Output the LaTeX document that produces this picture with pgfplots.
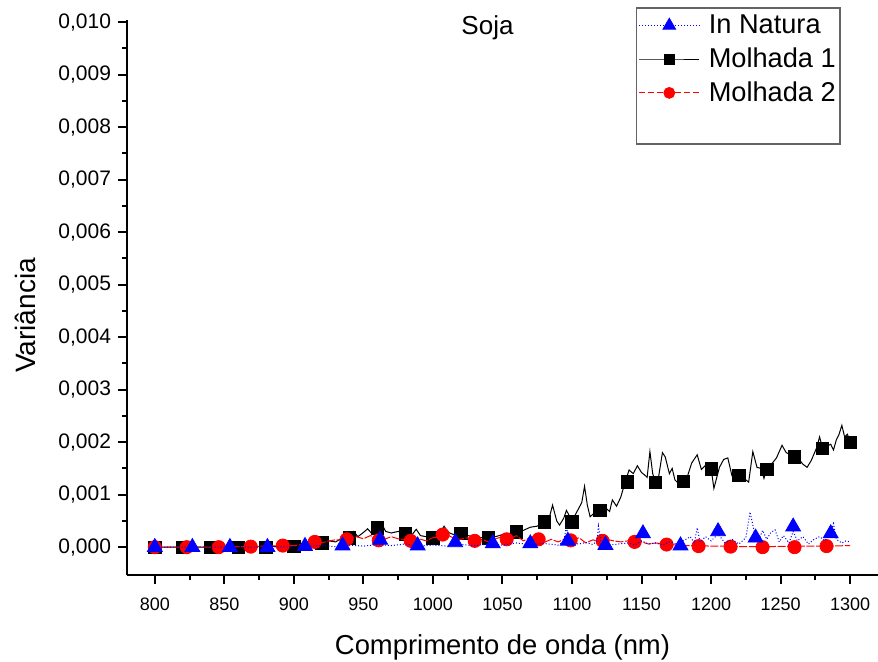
\documentclass[border=0pt]{standalone}
\usepackage{fontspec}
\setmainfont{Liberation Sans}
\usepackage{pgfplots}
\pgfplotsset{compat=1.18}
\definecolor{legframe}{RGB}{100,100,100}
\begin{document}
\begin{tikzpicture}
\useasboundingbox (-63.5bp,-43.5bp) rectangle (375.5bp,287.5bp);
\begin{axis}[
  at={(0,0)}, anchor=south west,
  scale only axis, width=375.5bp, height=277.5bp,
  xmin=780, xmax=1320, ymin=-0.00053, ymax=0.01004,
  clip mode=individual,
  axis x line*=bottom, axis y line*=left,
  axis line style={line width=1bp, black},
  xtick={800,850,900,950,1000,1050,1100,1150,1200,1250,1300},
  ytick={0,0.001,0.002,0.003,0.004,0.005,0.006,0.007,0.008,0.009,0.010},
  minor x tick num=1, minor y tick num=1,
  tick align=outside,
  major tick length=4.5bp, minor tick length=2.5bp,
  every tick/.style={black, line width=1bp},
  scaled y ticks=false,
  /pgf/number format/assume math mode=true,
  yticklabel style={/pgf/number format/fixed, /pgf/number format/fixed zerofill,
     /pgf/number format/precision=3, /pgf/number format/use comma,
     font=\fontsize{10.5bp}{12bp}\selectfont},
  xticklabel style={/pgf/number format/1000 sep={}, font=\fontsize{9bp}{11bp}\selectfont},
  xticklabel shift=3.5bp,
  xlabel={Comprimento de onda (nm)},
  ylabel={Variância},
  xlabel style={at={(axis description cs:0.5,0)}, anchor=center, yshift=-36bp,
     font=\fontsize{13.7bp}{16bp}\selectfont},
  ylabel style={at={(axis description cs:-0.1358,0.4676)}, anchor=center,
     font=\fontsize{14bp}{16bp}\selectfont},
  legend style={at={(rel axis cs:0.9507,1.0234)}, anchor=north east,
     draw=legframe, line width=0.75bp, fill=white,
     font=\fontsize{13.6bp}{16bp}\selectfont,
     nodes={inner sep=1.5bp, inner xsep=1bp}, row sep=2.6bp, inner xsep=1.2bp, inner ysep=2bp,
     /tikz/every odd column/.append style={column sep=3.5bp}},
  legend cell align=left,
  legend image code/.code={\draw[mark repeat=2,mark phase=2] plot coordinates {(0bp,0bp) (15bp,0bp) (30bp,0bp)};},
]
% Molhada 1 line
\addplot[black, line width=0.5bp, forget plot] table {
800 0.00000
810 0.00000
820 0.00000
830 0.00000
840 0.00000
850 0.00000
860 0.00001
870 0.00001
880 0.00001
890 0.00002
900 0.00003
905 0.00004
910 0.00005
915 0.00006
920 0.00008
925 0.00012
930 0.00010
935 0.00018
940 0.00022
943 0.00030
946 0.00020
950 0.00028
953 0.00035
956 0.00026
960 0.00040
963 0.00045
966 0.00030
970 0.00027
975 0.00030
980 0.00026
985 0.00024
988 0.00034
991 0.00022
995 0.00020
1000 0.00018
1004 0.00022
1008 0.00040
1011 0.00028
1015 0.00024
1020 0.00027
1025 0.00022
1030 0.00020
1035 0.00018
1040 0.00019
1045 0.00020
1050 0.00024
1055 0.00026
1060 0.00030
1065 0.00032
1070 0.00038
1075 0.00040
1080 0.00048
1083 0.00050
1086 0.00080
1089 0.00050
1091 0.00042
1094 0.00055
1096 0.00070
1100 0.00050
1104 0.00070
1107 0.00085
1109 0.00116
1111 0.00080
1113 0.00058
1116 0.00065
1120 0.00072
1124 0.00075
1127 0.00068
1129 0.00090
1132 0.00078
1135 0.00095
1138 0.00122
1141 0.00147
1144 0.00140
1147 0.00155
1150 0.00142
1152 0.00138
1154 0.00133
1156 0.00182
1158 0.00140
1160 0.00125
1162 0.00130
1165 0.00180
1167 0.00172
1170 0.00140
1172 0.00150
1174 0.00128
1177 0.00120
1180 0.00126
1183 0.00135
1186 0.00160
1190 0.00176
1193 0.00148
1196 0.00156
1200 0.00150
1202 0.00112
1206 0.00152
1209 0.00167
1212 0.00170
1215 0.00136
1218 0.00140
1220 0.00138
1223 0.00132
1227 0.00124
1230 0.00182
1233 0.00152
1236 0.00150
1238 0.00131
1240 0.00148
1244 0.00160
1247 0.00170
1251 0.00194
1254 0.00180
1257 0.00176
1260 0.00172
1263 0.00168
1266 0.00158
1269 0.00152
1272 0.00165
1276 0.00190
1278 0.00210
1280 0.00190
1283 0.00192
1286 0.00196
1288 0.00185
1290 0.00204
1292 0.00215
1294 0.00232
1296 0.00210
1298 0.00215
1300 0.00200
};
\addplot[only marks, mark=square*, mark size=3.1bp, black, forget plot] table {
800 0
820 0
840 0
860 0
880 0
900 0.00002
920 0.00008
940 0.00018
960 0.00037
980 0.00025
1000 0.00018
1020 0.00026
1040 0.00018
1060 0.00029
1080 0.00048
1100 0.00048
1120 0.00070
1140 0.00124
1160 0.00123
1180 0.00125
1200 0.00149
1220 0.00137
1240 0.00148
1260 0.00172
1280 0.00188
1300 0.00200
};
% Molhada 2 line
\addplot[red, line width=0.5bp, dash pattern=on 4bp off 0.8bp, forget plot] table {
800 0.00000
820 0.00000
840 0.00000
860 0.00001
880 0.00002
900 0.00003
910 0.00006
920 0.00008
925 0.00012
930 0.00014
935 0.00013
940 0.00017
945 0.00020
950 0.00016
955 0.00022
960 0.00018
965 0.00015
970 0.00020
975 0.00016
980 0.00014
985 0.00013
990 0.00016
995 0.00012
1000 0.00018
1005 0.00020
1010 0.00024
1015 0.00017
1020 0.00015
1025 0.00018
1030 0.00012
1035 0.00015
1040 0.00010
1045 0.00016
1050 0.00020
1055 0.00015
1060 0.00022
1065 0.00012
1070 0.00018
1075 0.00014
1080 0.00009
1085 0.00015
1090 0.00010
1095 0.00016
1100 0.00012
1105 0.00018
1110 0.00008
1115 0.00014
1120 0.00010
1125 0.00015
1130 0.00012
1135 0.00010
1140 0.00012
1145 0.00008
1150 0.00010
1155 0.00006
1160 0.00008
1170 0.00005
1180 0.00003
1190 0.00003
1200 0.00002
1210 0.00002
1220 0.00001
1240 0.00001
1260 0.00002
1280 0.00002
1300 0.00003
};
\addplot[only marks, mark=*, mark size=3.3bp, red, forget plot] table {
800 0
823 0
846 0
869 0.00001
892 0.00003
915 0.00010
938 0.00015
961 0.00013
984 0.00012
1007 0.00024
1030 0.00012
1053 0.00015
1076 0.00015
1099 0.00013
1122 0.00012
1145 0.00010
1168 0.00005
1191 0.00002
1214 0.00001
1237 0.00000
1260 0.00000
1283 0.00002
};
% In Natura line
\addplot[blue, line width=0.5bp, densely dotted, forget plot] table {
800 0.00000
820 0.00000
840 0.00000
860 0.00000
880 0.00000
900 0.00001
910 0.00002
920 0.00003
930 0.00001
940 0.00004
950 0.00002
960 0.00005
970 0.00003
980 0.00006
990 0.00002
1000 0.00004
1010 0.00002
1020 0.00005
1030 0.00003
1040 0.00006
1050 0.00004
1060 0.00008
1070 0.00005
1080 0.00007
1090 0.00004
1094 0.00010
1096 0.00040
1098 0.00008
1105 0.00006
1110 0.00009
1115 0.00005
1118 0.00012
1119 0.00040
1121 0.00006
1130 0.00005
1140 0.00008
1145 0.00004
1150 0.00012
1155 0.00006
1160 0.00008
1165 0.00004
1170 0.00010
1175 0.00006
1180 0.00012
1185 0.00020
1188 0.00008
1190 0.00037
1192 0.00010
1196 0.00020
1200 0.00012
1205 0.00025
1210 0.00008
1215 0.00015
1220 0.00006
1225 0.00018
1228 0.00067
1231 0.00030
1234 0.00012
1237 0.00032
1240 0.00015
1243 0.00028
1246 0.00033
1249 0.00010
1252 0.00022
1256 0.00008
1259 0.00030
1262 0.00012
1266 0.00020
1270 0.00006
1274 0.00015
1278 0.00020
1282 0.00012
1286 0.00030
1288 0.00045
1290 0.00015
1294 0.00008
1297 0.00012
1300 0.00010
};
\addplot[only marks, mark=triangle*, mark size=4.3bp, blue, forget plot] table {
800 0
827 0
854 0
881 0
908 0.00002
935 0.00003
962 0.00014
989 0.00003
1016 0.00009
1043 0.00007
1070 0.00007
1097 0.00012
1124 0.00004
1151 0.00026
1178 0.00003
1205 0.00030
1232 0.00018
1259 0.00039
1286 0.00026
};
\addlegendimage{blue, line width=0.5bp, densely dotted, mark=triangle*, mark size=3.6bp, mark options={solid}}
\addlegendentry{In Natura}
\addlegendimage{black, line width=0.5bp, mark=square*, mark size=2.5bp, mark options={solid}}
\addlegendentry{Molhada 1}
\addlegendimage{red, line width=0.5bp, dash pattern=on 3bp off 1.5bp, mark=*, mark size=2.7bp, mark options={solid}}
\addlegendentry{Molhada 2}
\addlegendimage{empty legend}
\addlegendentry{\phantom{M}}
\node[anchor=base, font=\fontsize{13bp}{15bp}\selectfont] at (axis description cs:0.48,0.973) {Soja};
\end{axis}
\end{tikzpicture}
\end{document}
